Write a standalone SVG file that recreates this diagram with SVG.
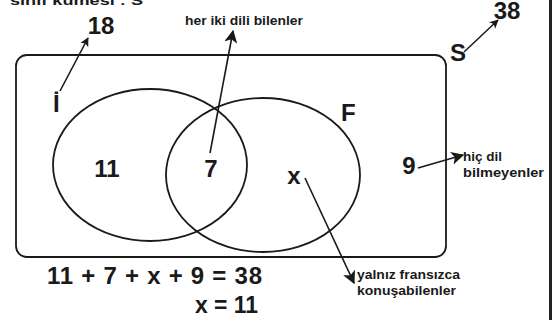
<svg xmlns="http://www.w3.org/2000/svg" width="552" height="320" viewBox="0 0 552 320">
<style>
.big{font-family:"Liberation Sans",Arial,sans-serif;font-weight:bold;font-size:24px;fill:#1a1a1a}
.lbl{font-family:"Liberation Sans",Arial,sans-serif;font-weight:bold;font-size:13.5px;fill:#1a1a1a}
.ln{stroke:#1a1a1a;stroke-width:1.6;fill:none}
.shape{stroke:#1a1a1a;stroke-width:1.8;fill:none}
</style>
<defs>
<marker id="ah" viewBox="0 0 10 10" refX="9" refY="5" markerWidth="9" markerHeight="9" markerUnits="userSpaceOnUse" orient="auto">
<path d="M0,0 L10,5 L0,10 L2.5,5 Z" fill="#1a1a1a"/>
</marker>
<marker id="ahL" viewBox="0 0 10 10" refX="9" refY="5" markerWidth="13" markerHeight="13" markerUnits="userSpaceOnUse" orient="auto">
<path d="M0,0 L10,5 L0,10 L2.5,5 Z" fill="#1a1a1a"/>
</marker>
</defs>
<rect width="552" height="320" fill="#fff"/>
<rect x="549" y="0" width="3" height="320" fill="#222"/>
<text class="lbl" x="10" y="5" font-size="18" textLength="133" lengthAdjust="spacingAndGlyphs">sınıf kümesi : S</text>
<g id="universe">
<rect class="shape" x="16" y="55" width="430" height="202" rx="11"/>
<text class="big" x="450" y="61" font-size="21">S</text>
</g>
<g id="setI">
<ellipse class="shape" cx="150" cy="165" rx="97" ry="76"/>
<text class="big" x="53" y="112" font-size="23">İ</text>
</g>
<g id="setF">
<ellipse class="shape" cx="263" cy="175" rx="97" ry="77"/>
<text class="big" x="341" y="121" font-size="22">F</text>
</g>
<g id="regions">
<text class="big" x="107" y="177" text-anchor="middle">11</text>
<text class="big" x="211" y="177" text-anchor="middle">7</text>
<text class="big" x="294" y="184" text-anchor="middle">x</text>
<text class="big" x="409" y="174" text-anchor="middle">9</text>
</g>
<g id="labels">
<text class="big" x="101" y="34" text-anchor="middle">18</text>
<text class="big" x="507" y="19" text-anchor="middle">38</text>
<text class="lbl" x="185" y="25" textLength="118" lengthAdjust="spacingAndGlyphs">her iki dili bilenler</text>
<text class="lbl" x="463" y="161">hiç dil</text>
<text class="lbl" x="463" y="177" textLength="81" lengthAdjust="spacingAndGlyphs">bilmeyenler</text>
<text class="lbl" x="357" y="279" textLength="103" lengthAdjust="spacingAndGlyphs">yalnız fransızca</text>
<text class="lbl" x="357" y="295" textLength="99" lengthAdjust="spacingAndGlyphs">konuşabilenler</text>
</g>
<g id="equations">
<text class="big" x="47" y="284" textLength="215" lengthAdjust="spacing">11 + 7 + x  + 9 = 38</text>
<text class="big" x="195" y="313" textLength="63" lengthAdjust="spacingAndGlyphs">x = 11</text>
</g>
<g id="connectors">
<line class="ln" x1="60" y1="91" x2="88" y2="38" marker-end="url(#ah)"/>
<line class="ln" x1="210" y1="153" x2="233" y2="31" marker-end="url(#ahL)"/>
<line class="ln" x1="305" y1="178" x2="354" y2="283" marker-end="url(#ahL)"/>
<line class="ln" x1="418" y1="168" x2="463" y2="155" marker-end="url(#ahL)"/>
<line class="ln" x1="464" y1="52" x2="498" y2="20" marker-end="url(#ah)"/>
</g>
</svg>
